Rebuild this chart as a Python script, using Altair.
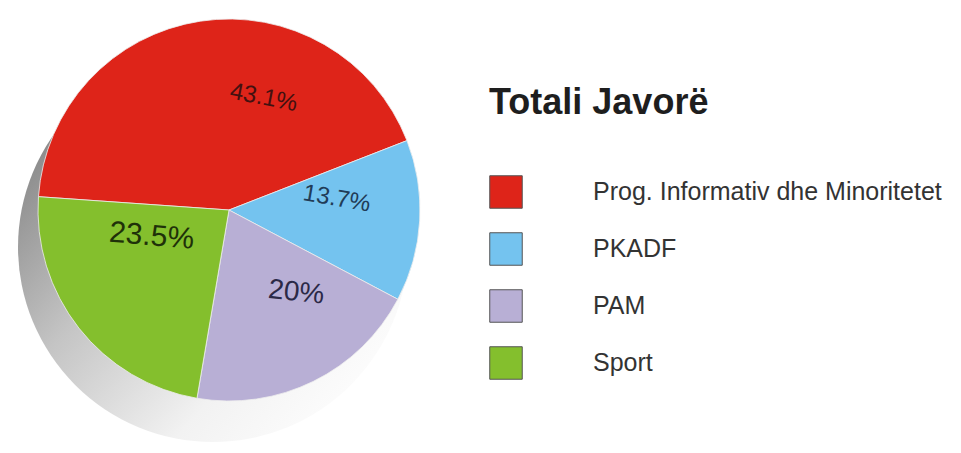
import math
import altair as alt
import pandas as pd

categories = ["Prog. Informativ dhe Minoritetet", "PKADF", "PAM", "Sport"]
values = [43.1, 13.7, 20.0, 23.5]
labels = ["43.1%", "13.7%", "20%", "23.5%"]
colors = ["#DE2419", "#74C3EF", "#B8AFD5", "#84BF2D"]

df = pd.DataFrame({
    "cat": categories,
    "value": values,
    "label": labels,
    "order": list(range(len(categories))),
})

CX, CY, R = 221, 202, 191
start = math.radians(-86)
theta_scale = alt.Scale(range=[start, start + 2 * math.pi])
FONT = "Liberation Sans"

shadow = alt.Chart(pd.DataFrame({"s": [0]})).mark_arc(
    radius=195,
    theta=0,
    theta2=2 * math.pi,
    fill=alt.LinearGradient(
        gradient="linear",
        x1=0, y1=0.25, x2=0.85, y2=1,
        stops=[
            alt.GradientStop(offset=0, color="#858585"),
            alt.GradientStop(offset=0.35, color="#c4c4c4"),
            alt.GradientStop(offset=0.7, color="#f2f2f2"),
            alt.GradientStop(offset=1, color="#ffffff"),
        ],
    ),
).encode(x=alt.value(CX - 16), y=alt.value(CY + 37))

pie = alt.Chart(df).mark_arc(radius=R, stroke="#eeeeee", strokeWidth=0.8).encode(
    theta=alt.Theta("value:Q", stack=True, scale=theta_scale),
    order=alt.Order("order:Q"),
    x=alt.value(CX),
    y=alt.value(CY),
    color=alt.Color(
        "cat:N",
        scale=alt.Scale(domain=categories, range=colors),
        sort=categories,
        legend=alt.Legend(
            title="Totali Javorë",
            orient="none",
            legendX=481,
            legendY=78,
            padding=0,
            symbolType="square",
            symbolSize=1056,
            symbolStrokeColor="#555555",
            symbolStrokeWidth=1,
            symbolOpacity=1,
            labelFont=FONT,
            labelFontSize=25,
            labelColor="#333333",
            labelOffset=70,
            labelLimit=500,
            rowPadding=19,
            titleFont=FONT,
            titleFontSize=36,
            titleFontWeight="bold",
            titleColor="#1e1e1e",
            titlePadding=53,
            titleLimit=500,
        ),
    ),
)

# per-label styling (perspective look of the tilted pie)
label_style = {
    "43.1%": dict(fontSize=24, dx=49, dy=-15, angle=11, color="#3a1010"),
    "13.7%": dict(fontSize=24, dx=-3, dy=-17, angle=10, color="#1c3550"),
    "20%": dict(fontSize=28, dx=18, dy=-16, angle=6, color="#24223f"),
    "23.5%": dict(fontSize=30, dx=4, dy=-41, angle=5, color="#1a2a08"),
}

text_layers = []
for lab in labels:
    st = label_style[lab]
    t = (
        alt.Chart(df)
        .transform_window(cum="sum(value)", sort=[alt.SortField("order")])
        .transform_calculate(mid="datum.cum - datum.value / 2")
        .transform_filter(alt.datum.label == lab)
        .mark_text(radius=108, font=FONT, opacity=0.95, **st)
        .encode(
            theta=alt.Theta("mid:Q", scale=theta_scale),
            x=alt.value(CX),
            y=alt.value(CY),
            text="label:N",
        )
    )
    text_layers.append(t)

chart = alt.layer(shadow, pie, *text_layers).properties(
    width=945,
    height=437,
    padding=0,
    autosize=alt.AutoSizeParams(type="none"),
).configure_view(stroke=None)

chart.save("out.html", embed_options={"renderer": "svg", "actions": False})
